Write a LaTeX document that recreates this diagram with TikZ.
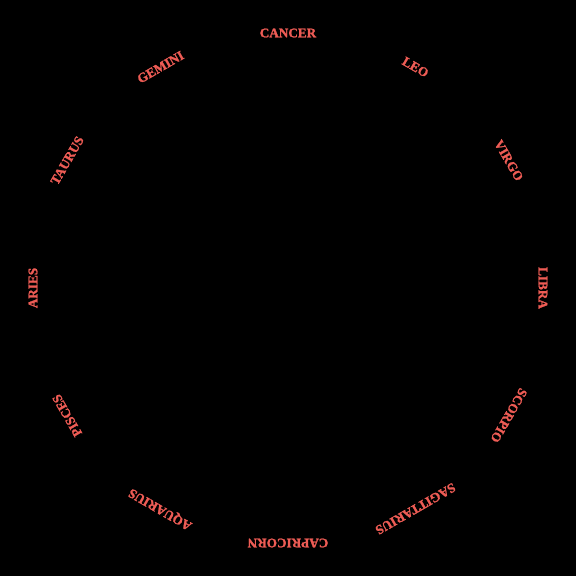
\documentclass[tikz,border=0pt]{standalone}
\usepackage{fontspec}
\setmainfont{Liberation Serif}
\newfontfamily\heavyserif[FakeBold=1.6]{Liberation Serif Bold}
\definecolor{zod}{HTML}{EE5C55}
\begin{document}
\begin{tikzpicture}[x=1pt,y=1pt,
  sign/.style={text=zod, font=\heavyserif\fontsize{13.2}{14}\selectfont, inner sep=0pt, anchor=center}]
\fill[black] (-288,-288) rectangle (288,288);
\useasboundingbox (-288,-288) rectangle (288,288);
\foreach \n [count=\i from 0] in {CANCER,LEO,VIRGO,LIBRA,SCORPIO,SAGITTARIUS,CAPRICORN,AQUARIUS,PISCES,ARIES,TAURUS,GEMINI}{
  \node[sign, rotate=-30*\i] (s\i) at ({90-30*\i}:255) {\n};
}
\end{tikzpicture}
\end{document}
